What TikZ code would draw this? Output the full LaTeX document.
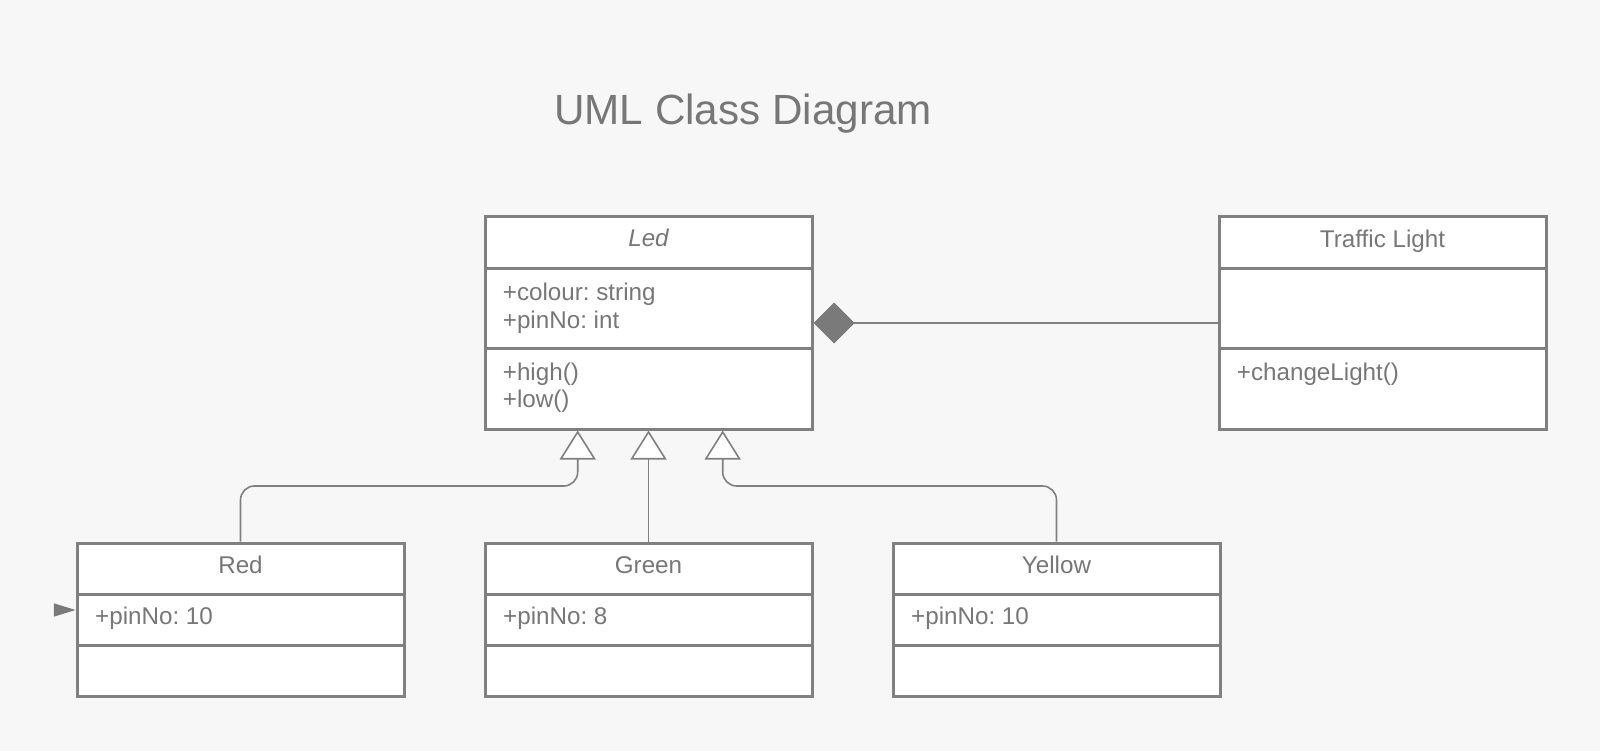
\documentclass[tikz,border=0pt]{standalone}
\usepackage{fontspec}
\setmainfont{Liberation Sans}
\usetikzlibrary{arrows.meta,calc}
\definecolor{bg}{HTML}{F7F7F7}
\definecolor{linegray}{HTML}{808080}
\definecolor{textgray}{HTML}{777777}
\definecolor{diagray}{HTML}{7A7A7A}
\frenchspacing
\tikzset{
  classbox/.style={draw=linegray, line width=3pt, fill=white, inner sep=0pt, minimum width=327pt},
  divider/.style={draw=linegray, line width=3pt},
  txt/.style={text=textgray, inner sep=0pt, font=\fontsize{24.2}{28}\selectfont\frenchspacing},
  attr/.style={txt, anchor=base west},
  cname/.style={txt, anchor=base},
  gen/.style={draw=linegray, line width=1.6pt, rounded corners=14pt, -{Triangle[width=36pt,length=29pt,fill=white]}},
  comp/.style={draw=linegray, line width=1.6pt, {Diamond[width=41pt,length=41pt,fill=diagray,color=diagray]}-}
}
\begin{document}
\begin{tikzpicture}[x=1pt,y=-1pt]
\fill[bg] (0,0) rectangle (1600,751);
\useasboundingbox (0,0) rectangle (1600,751);

\node[txt, anchor=base, font=\fontsize{42.2}{48}\selectfont] (title) at (743,125) {UML Class Diagram};

% class boxes
\node[classbox, minimum height=212pt] (led) at (648.5,323) {};
\node[classbox, minimum height=212pt] (tl) at (1382.5,323) {};
\node[classbox, minimum height=153.5pt] (red) at (240.5,619.75) {};
\node[classbox, minimum height=153.5pt] (green) at (648.5,619.75) {};
\node[classbox, minimum height=153.5pt] (yellow) at (1056.5,619.75) {};

% dividers
\foreach \b in {led,tl}{
  \draw[divider] ($(\b.north west)+(1.5,53)$) -- ($(\b.north east)+(-1.5,53)$);
  \draw[divider] ($(\b.north west)+(1.5,132.5)$) -- ($(\b.north east)+(-1.5,132.5)$);
}
\foreach \b in {red,green,yellow}{
  \draw[divider] ($(\b.north west)+(1.5,52.5)$) -- ($(\b.north east)+(-1.5,52.5)$);
  \draw[divider] ($(\b.north west)+(1.5,103.5)$) -- ($(\b.north east)+(-1.5,103.5)$);
}

% texts
\node[cname, font=\fontsize{24.2}{28}\selectfont\itshape] (ledname) at (648.5,246.7) {Led};
\node[attr] (ledcol) at (502.7,300) {+colour: string};
\node[attr] (ledpin) at (502.7,328) {+pinNo: int};
\node[attr] (ledhigh) at (502.7,380) {+high()};
\node[attr] (ledlow) at (502.7,407) {+low()};

\node[cname] (tlname) at (1382.5,247.7) {Traffic Light};
\node[attr] (tlchange) at (1236.7,380) {+changeLight()};

\node[cname] (redname) at (240.5,573) {Red};
\node[attr] (redpin) at (95,624) {+pinNo: 10};
\node[cname] (greenname) at (648.5,573) {Green};
\node[attr] (greenpin) at (503,624) {+pinNo: 8};
\node[cname] (yellowname) at (1056.5,573) {Yellow};
\node[attr] (yellowpin) at (911,624) {+pinNo: 10};

% generalisations
\draw[gen] (red.north) |- (577.7,486) -- (577.7,429 |- led.south);
\draw[gen] (green.north) -- (led.south);
\draw[gen] (yellow.north) |- (722.7,486) -- (722.7,429 |- led.south);

% composition
\draw[comp] (led.east) -- (led.east -| tl.west);

% small arrowhead at Red
\coordinate (redtip) at ($(red.west)+(0,-9.75)$);
\fill[diagray] (redtip) -- ++(-21.6,-6.7) -- ++(0,13.4) -- cycle;
\end{tikzpicture}
\end{document}
